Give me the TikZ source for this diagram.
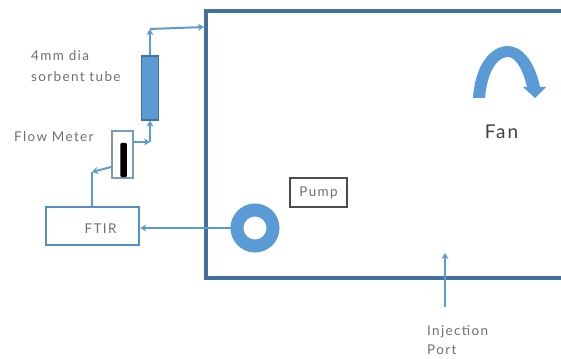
\documentclass[tikz,border=0pt]{standalone}
\usepackage{fontspec}
\setmainfont[LetterSpace=10]{Lato}
\usepackage{xcolor}
\usetikzlibrary{arrows.meta,calc}
\definecolor{pipeblue}{HTML}{5B9BD5}
\definecolor{wallblue}{HTML}{41719C}
\definecolor{labelgray}{HTML}{707070}

\begin{document}
\begin{tikzpicture}[
    x=1pt, y=-1pt,
    chamberbox/.style={rectangle, draw=wallblue, line width=4pt, inner sep=0pt, minimum width=370pt, minimum height=267pt},
    ftirbox/.style={rectangle, draw=pipeblue!70!wallblue, line width=2.4pt, inner sep=0pt, minimum width=93pt, minimum height=38pt},
    tubebox/.style={rectangle, draw=wallblue, fill=pipeblue, line width=1.2pt, inner sep=0pt, minimum width=17pt, minimum height=64pt},
    meterbox/.style={rectangle, draw=wallblue!70, line width=1.8pt, inner sep=0pt, minimum width=21pt, minimum height=47pt},
    floatbar/.style={rectangle, fill=black, rounded corners=1pt, inner sep=0pt, minimum width=6.5pt, minimum height=34pt},
    pumpring/.style={circle, draw=pipeblue, line width=13pt, inner sep=0pt, minimum size=36pt},
    pumpbox/.style={rectangle, draw=black!70, line width=1.8pt, inner sep=0pt, minimum width=57pt, minimum height=29pt, font=\fontsize{13.5}{15}\selectfont, text=labelgray},
    tag/.style={inner sep=0pt, align=left, font=\fontsize{13.5}{21}\selectfont, text=labelgray},
    pipe/.style={-{Stealth[length=6pt,width=7pt]}, draw=pipeblue, line width=2pt}
]
\useasboundingbox (0,0) rectangle (561,358);
\node[chamberbox] (chamber) at (391,144.5) {};
\node[ftirbox] (ftir) at (92.5,226) {};
\node[tag] (ftirtext) at (100.5,229) {FTIR};
\node[tubebox] (tube) at (150,88) {};
\node[meterbox] (meter) at (122.5,154.5) {};
\node[floatbar] (float) at (123.5,160) {};
\node[pumpring] (ring) at (255,228) {};
\node[pumpbox] (pump) at (318.5,192.5) {Pump};
\node[tag, anchor=north west] (tubetext) at (31,50) {4mm dia\\sorbent tube};
\node[tag, anchor=west] (metertext) at (14,137) {Flow Meter};
\node[tag, anchor=north west, font=\fontsize{13.5}{19}\selectfont] (injecttext) at (427,325.5) {Injection\\Port};
\node[tag, font=\fontsize{19}{22}\selectfont, text=black!75] (fantext) at (501.5,132) {Fan};

\coordinate (bendftir) at (92,172);
\coordinate (bendmeter) at (150,142);
\coordinate (bendtube) at (150,29);
\coordinate (injectstart) at (445,307);
\coordinate (injectend) at (445,253);

\draw[pipe] (ring.west) -- (ring.west -| ftir.east);
\draw[pipe, -] (ftir.north -| bendftir) -- (bendftir);
\draw[pipe] (meter.west |- 0,167) -- (bendftir);
\draw[pipe] (meter.east |- bendmeter) -- (bendmeter);
\draw[pipe] (bendmeter) -- (tube.south);
\draw[pipe] (tube.north) -- (bendtube);
\draw[pipe] (bendtube) -- (chamber.west |- 0,27);
\draw[pipe] (injectstart) -- (injectend);

\fill[pipeblue] (473,98) .. controls (475,66) and (490,46) .. (508,46)
    .. controls (522,46) and (535,62) .. (540,87) -- (546,87) -- (535,98) -- (523,87) -- (527,87)
    .. controls (523,70) and (516,57) .. (508,57)
    .. controls (496,57) and (487,74) .. (485,98) -- cycle;
\end{tikzpicture}
\end{document}
